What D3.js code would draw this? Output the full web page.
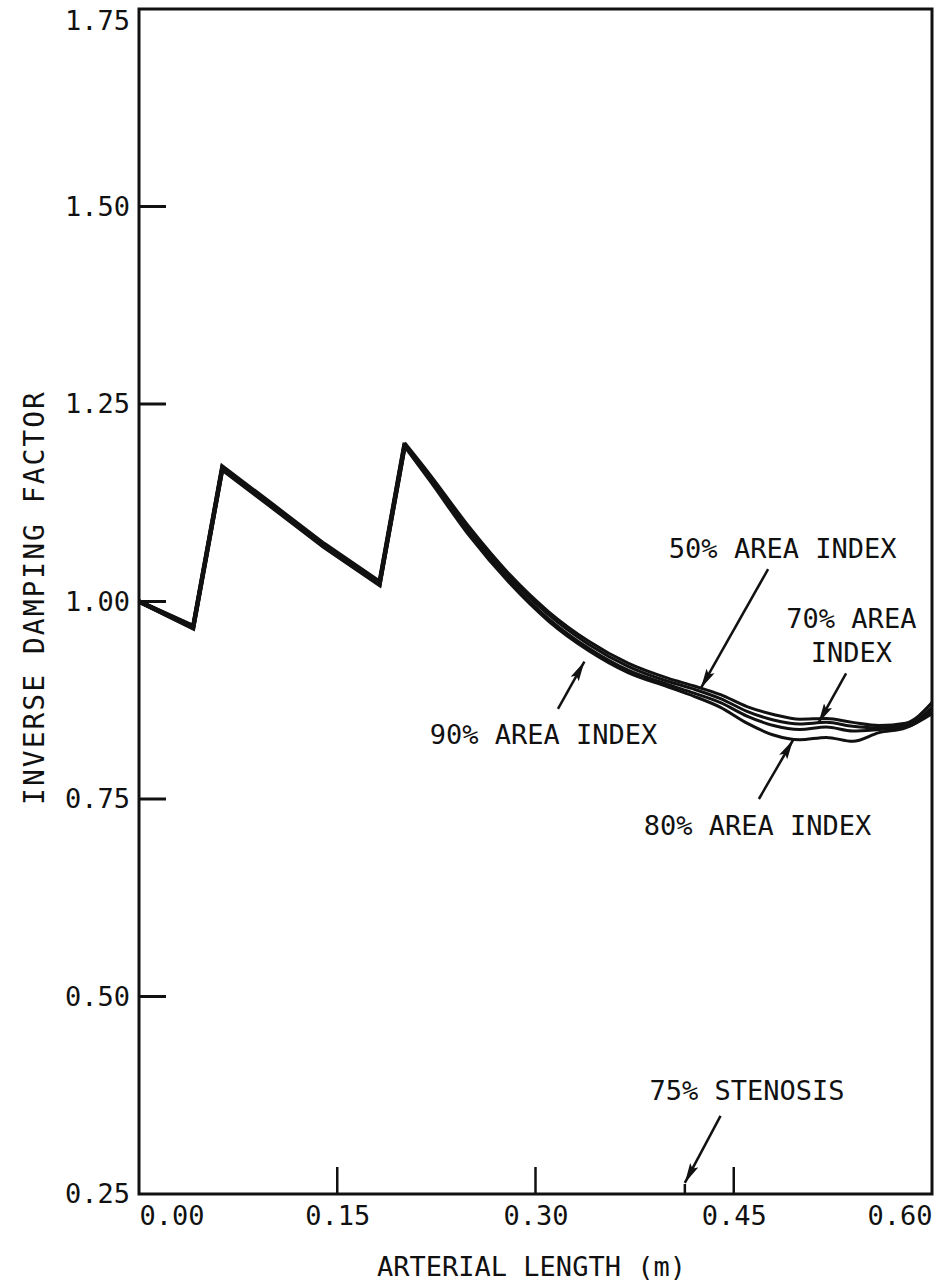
<!DOCTYPE html>
<html>
<head>
<meta charset="utf-8">
<script src="https://cdn.jsdelivr.net/npm/d3@7"></script>
<style>
  body { margin: 0; background: #fff; }
  text { font-family: "DejaVu Sans Mono", "Liberation Mono", monospace; fill: #111; }
</style>
</head>
<body>
<svg id="chart" width="936" height="1284"></svg>
<script>
// arterial length (m) where the curves were sampled
var lengths = [0, 0.041, 0.063, 0.10, 0.14, 0.182, 0.201, 0.22, 0.25, 0.28, 0.31, 0.34, 0.37, 0.40, 0.42, 0.44, 0.46, 0.48, 0.50, 0.52, 0.54, 0.56, 0.58, 0.60];

// inverse damping factor per area index
var idx50 = [1.000, 0.969, 1.171, 1.124, 1.073, 1.025, 1.201, 1.161, 1.094, 1.035, 0.987, 0.950, 0.922, 0.903, 0.893, 0.882, 0.867, 0.857, 0.851, 0.852, 0.847, 0.843, 0.846, 0.872];
var idx70 = [1.000, 0.968, 1.169, 1.122, 1.071, 1.023, 1.199, 1.158, 1.090, 1.031, 0.983, 0.946, 0.918, 0.899, 0.889, 0.877, 0.861, 0.850, 0.845, 0.847, 0.842, 0.840, 0.843, 0.866];
var idx90 = [1.000, 0.967, 1.168, 1.121, 1.070, 1.022, 1.197, 1.155, 1.086, 1.027, 0.978, 0.941, 0.913, 0.895, 0.884, 0.872, 0.855, 0.843, 0.838, 0.841, 0.836, 0.838, 0.841, 0.862];
var idx80 = [1.000, 0.966, 1.167, 1.120, 1.069, 1.021, 1.196, 1.153, 1.083, 1.024, 0.975, 0.938, 0.910, 0.892, 0.880, 0.866, 0.846, 0.831, 0.825, 0.828, 0.823, 0.834, 0.840, 0.858];

var xTicks = [0.00, 0.15, 0.30, 0.45, 0.60];
var yTicks = [0.25, 0.50, 0.75, 1.00, 1.25, 1.50, 1.75];
var stenosisAt = 0.413;
var lastCorner = 6; // sawtooth is straight up to the second peak, smooth after it

// annotation text + arrow (tail -> tip), in data units
var notes = [
  {lines: ["50% AREA INDEX"], x: 0.487, y: 1.055, from: [0.476, 1.041], to: [0.425, 0.890]},
  {lines: ["70% AREA", "INDEX"], x: 0.539, y: 0.967, from: [0.535, 0.909], to: [0.514, 0.846]},
  {lines: ["90% AREA INDEX"], x: 0.306, y: 0.820, from: [0.317, 0.864], to: [0.337, 0.924]},
  {lines: ["80% AREA INDEX"], x: 0.468, y: 0.704, from: [0.469, 0.750], to: [0.495, 0.825]},
  {lines: ["75% STENOSIS"], x: 0.460, y: 0.369, from: [0.440, 0.349], to: [0.413, 0.264]}
];

var svg = d3.select("#chart"),
    margin = {top: 9, right: 4, bottom: 90, left: 139},
    width = +svg.attr("width") - margin.left - margin.right,
    height = +svg.attr("height") - margin.top - margin.bottom;

var g = svg.append("g").attr("transform", "translate(" + margin.left + "," + margin.top + ")");

var x = d3.scaleLinear().domain([0, 0.6]).range([0, width]);
var y = d3.scaleLinear().domain([0.25, 1.75]).range([height, 0]);

svg.append("defs").append("marker")
    .attr("id", "head")
    .attr("viewBox", "0 0 16 8")
    .attr("refX", 16).attr("refY", 4)
    .attr("markerWidth", 8).attr("markerHeight", 4)
    .attr("markerUnits", "strokeWidth")
    .attr("orient", "auto")
  .append("path")
    .attr("d", "M0,0.3 L16,4 L0,7.7 L3,4 Z")
    .attr("fill", "#111");

// frame
g.append("rect")
    .attr("width", width).attr("height", height)
    .attr("fill", "none").attr("stroke", "#111").attr("stroke-width", 3);

// y axis: inward ticks
var yAxis = g.append("g")
    .call(d3.axisLeft(y).tickValues(yTicks).tickFormat(d3.format(".2f")).tickSize(0).tickPadding(9));
yAxis.select(".domain").remove();
yAxis.selectAll("text").attr("font-size", 27).style("font-family", "DejaVu Sans Mono")
    .attr("dy", function(d) { return d === 1.75 ? "0.75em" : "0.32em"; });
g.selectAll(".ytick").data(yTicks.filter(function(d) { return d > 0.25 && d < 1.75; }))
  .enter().append("line")
    .attr("x1", 0).attr("x2", 27)
    .attr("y1", function(d) { return y(d); }).attr("y2", function(d) { return y(d); })
    .attr("stroke", "#111").attr("stroke-width", 3);

// x axis: upward ticks
var xAxis = g.append("g")
    .attr("transform", "translate(0," + height + ")")
    .call(d3.axisBottom(x).tickValues(xTicks).tickFormat(d3.format(".2f")).tickSize(0).tickPadding(12));
xAxis.select(".domain").remove();
xAxis.selectAll("text").attr("font-size", 27).style("font-family", "DejaVu Sans Mono")
    .attr("text-anchor", function(d) { return d === 0 ? "start" : (d === 0.6 ? "end" : "middle"); });
g.selectAll(".xtick").data(xTicks.filter(function(d) { return d > 0 && d < 0.6; }))
  .enter().append("line")
    .attr("x1", function(d) { return x(d); }).attr("x2", function(d) { return x(d); })
    .attr("y1", height).attr("y2", height - 27)
    .attr("stroke", "#111").attr("stroke-width", 2.5);
g.append("line")
    .attr("x1", x(stenosisAt)).attr("x2", x(stenosisAt))
    .attr("y1", height).attr("y2", height - 10)
    .attr("stroke", "#111").attr("stroke-width", 2.5);

// curves: straight sawtooth part, then a smooth tail
var series = [idx50, idx70, idx90, idx80];
function pts(vals, from, to) {
  return vals.slice(from, to).map(function(v, i) { return [lengths[from + i], v]; });
}
var straight = d3.line()
    .x(function(d) { return x(d[0]); })
    .y(function(d) { return y(d[1]); });
var smooth = d3.line()
    .x(function(d) { return x(d[0]); })
    .y(function(d) { return y(d[1]); })
    .curve(d3.curveMonotoneX);

series.forEach(function(vals) {
  g.append("path")
      .attr("d", straight(pts(vals, 0, lastCorner + 1)))
      .attr("fill", "none").attr("stroke", "#111").attr("stroke-width", 4.2)
      .attr("stroke-linejoin", "miter");
  g.append("path")
      .attr("d", smooth(pts(vals, lastCorner, vals.length)))
      .attr("fill", "none").attr("stroke", "#111").attr("stroke-width", 3)
      .attr("stroke-linejoin", "round");
});

// annotations
notes.forEach(function(n) {
  g.append("line")
      .attr("x1", x(n.from[0])).attr("y1", y(n.from[1]))
      .attr("x2", x(n.to[0])).attr("y2", y(n.to[1]))
      .attr("stroke", "#111").attr("stroke-width", 2.5)
      .attr("marker-end", "url(#head)");
  n.lines.forEach(function(t, k) {
    g.append("text")
        .attr("x", x(n.x)).attr("y", y(n.y) + k * 34)
        .attr("text-anchor", "middle")
        .attr("font-size", 27)
        .text(t);
  });
});

// axis titles
svg.append("text")
    .attr("x", margin.left + width / 2 - 4).attr("y", 1276)
    .attr("text-anchor", "middle").attr("font-size", 27)
    .text("ARTERIAL LENGTH (m)");

svg.append("text")
    .attr("transform", "translate(44," + (margin.top + y(1.0) - 4) + ") rotate(-90)")
    .attr("text-anchor", "middle").attr("font-size", 28)
    .attr("letter-spacing", 2)
    .text("INVERSE DAMPING FACTOR");
</script>
</body>
</html>
